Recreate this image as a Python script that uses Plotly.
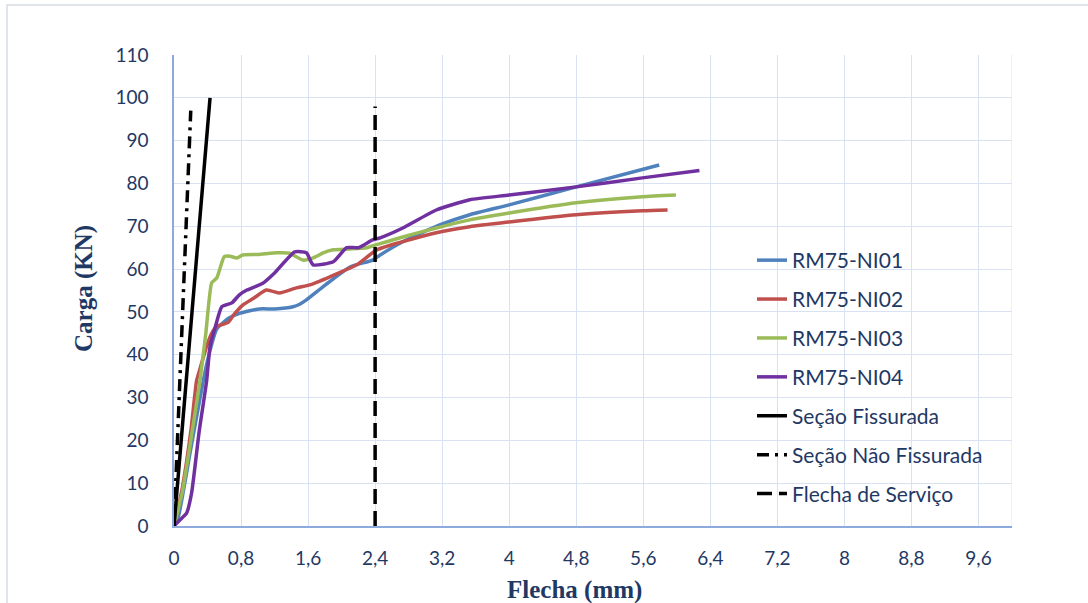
import plotly.graph_objects as go

# Load–deflection curves of the four beams (Flecha in mm, Carga in kN)
ni01_x = [0, 0.05, 0.2, 0.35, 0.41, 0.51, 0.65, 0.79, 1.02, 1.2, 1.42, 1.5, 1.58, 1.8, 2.1, 2.37,
          2.46, 2.73, 3.17, 3.53, 4.0, 4.8, 5.79]
ni01_y = [0, 2, 18, 34, 39.5, 46, 48.5, 49.7, 50.7, 50.7, 51.2, 51.8, 52.8, 56.2, 60.5, 62.1,
          63.3, 66.4, 70.3, 72.7, 75, 79.2, 84.3]

ni02_x = [0, 0.1, 0.2, 0.27, 0.3, 0.39, 0.45, 0.51, 0.6, 0.65, 0.72, 0.82, 0.95, 1.1, 1.18, 1.26,
          1.46, 1.62, 1.86, 2.18, 2.42, 2.73, 3.13, 3.53, 4.0, 4.8, 5.59, 5.89]
ni02_y = [0, 9, 22, 34, 36, 42, 45, 46.6, 47.2, 47.6, 49.5, 51.6, 53.2, 55.1, 54.8, 54.4,
          55.6, 56.3, 58.2, 61, 64.5, 66.4, 68.5, 69.9, 71, 72.7, 73.6, 73.8]

ni03_x = [0, 0.1, 0.2, 0.31, 0.38, 0.45, 0.51, 0.6, 0.67, 0.75, 0.82, 1.0, 1.23, 1.38, 1.54, 1.66,
          1.78, 1.9, 2.1, 2.3, 2.42, 2.73, 3.13, 3.53, 4.0, 4.8, 5.59, 5.99]
ni03_y = [0, 8, 20, 34, 45, 56.8, 57.9, 62.9, 63, 62.6, 63.3, 63.4, 63.8, 63.7, 62.1, 62.6,
          63.8, 64.5, 64.7, 65, 65.7, 67.5, 69.6, 71.5, 73.1, 75.5, 76.9, 77.3]

ni04_x = [0, 0.07, 0.15, 0.21, 0.3, 0.39, 0.43, 0.5, 0.57, 0.69, 0.78, 0.87, 1.06, 1.2, 1.44, 1.58,
          1.66, 1.9, 2.06, 2.2, 2.37, 2.46, 2.73, 3.13, 3.53, 4.0, 4.8, 5.59, 6.27]
ni04_y = [0, 1.4, 3, 7.7, 22, 34, 41.9, 47, 51.2, 52.1, 54, 55.1, 56.7, 59.1, 64, 63.8,
          61, 61.7, 65, 65, 66.8, 67.3, 69.6, 73.8, 76.2, 77.3, 79.2, 81.3, 83]

# Theoretical stiffness lines and the service deflection limit
fiss_x = [0, 0.43]
fiss_y = [0, 100]
nao_fiss_x = [0, 0.2]
nao_fiss_y = [0, 97]
servico_x = [2.4, 2.4]
servico_y = [0, 98]

x_ticks = [0, 0.8, 1.6, 2.4, 3.2, 4, 4.8, 5.6, 6.4, 7.2, 8, 8.8, 9.6]
x_tick_labels = ["0", "0,8", "1,6", "2,4", "3,2", "4", "4,8", "5,6", "6,4", "7,2", "8", "8,8", "9,6"]
y_ticks = list(range(0, 111, 10))

NAVY = "#1F3864"
GRID = "#D9E2F3"
AXIS = "#8EA9DB"
W, H = 1088, 603
ML, MR, MT, MB = 174, 76, 55, 77

fig = go.Figure()

series = [
    ("RM75-NI01", ni01_x, ni01_y, "#4F81BD", "solid", True),
    ("RM75-NI02", ni02_x, ni02_y, "#C0504D", "solid", True),
    ("RM75-NI03", ni03_x, ni03_y, "#9BBB59", "solid", True),
    ("RM75-NI04", ni04_x, ni04_y, "#7030A0", "solid", True),
    ("Seção Fissurada", fiss_x, fiss_y, "#000000", "solid", False),
    ("Seção Não Fissurada", nao_fiss_x, nao_fiss_y, "#000000", "12px,6px,3px,6px", False),
    ("Flecha de Serviço", servico_x, servico_y, "#000000", "15px,7px", False),
]

for i, (name, xs, ys, color, dash, smooth) in enumerate(series):
    line = dict(color=color, width=3.5, dash=dash)
    if smooth:
        line.update(shape="spline", smoothing=0.5)
    fig.add_trace(go.Scatter(
        x=xs, y=ys, name=name, mode="lines", line=line,
        legendgroup=f"g{i}",
    ))

pw = W - ML - MR
ph = H - MT - MB

# Light frame around the whole chart area
fig.add_shape(type="rect", xref="paper", yref="paper",
              x0=(7 - ML) / pw, x1=(W + 20 - ML) / pw,
              y0=-(MB + 20) / ph, y1=(H - MB - 5) / ph,
              line=dict(color="#D6DCE5", width=1.5), fillcolor="rgba(0,0,0,0)", layer="below")

fig.add_annotation(text="<b>Carga (KN)</b>", xref="paper", yref="paper",
                   x=(84 - ML) / pw, y=(H - MB - 289) / ph, textangle=-90,
                   showarrow=False, xanchor="center", yanchor="middle",
                   font=dict(family="Liberation Serif", size=25, color=NAVY))
fig.add_annotation(text="<b>Flecha (mm)</b>", xref="paper", yref="paper",
                   x=(574 - ML) / pw, y=(H - MB - 590) / ph,
                   showarrow=False, xanchor="center", yanchor="middle",
                   font=dict(family="Liberation Serif", size=25, color=NAVY))

fig.update_layout(
    width=W, height=H,
    margin=dict(l=ML, r=MR, t=MT, b=MB),
    paper_bgcolor="white", plot_bgcolor="white",
    font=dict(family="Lato", size=19, color=NAVY),
    showlegend=True,
    legend=dict(
        x=(752 - ML) / pw, y=(H - MB - 240) / ph, xanchor="left", yanchor="top",
        bgcolor="rgba(0,0,0,0)", borderwidth=0,
        font=dict(family="Lato", size=21, color=NAVY),
        traceorder="grouped", tracegroupgap=8.6,
    ),
    xaxis=dict(
        range=[0, 10], tickvals=x_ticks, ticktext=x_tick_labels,
        showgrid=True, gridcolor=GRID, gridwidth=1,
        showline=True, linecolor=AXIS, linewidth=1.5,
        ticks="outside", ticklen=14, tickcolor="rgba(0,0,0,0)",
        zeroline=False, fixedrange=True,
    ),
    yaxis=dict(
        range=[0, 110], tickvals=y_ticks,
        showgrid=True, gridcolor=GRID, gridwidth=1,
        showline=True, linecolor=AXIS, linewidth=1.5,
        ticks="outside", ticklen=20, tickcolor="rgba(0,0,0,0)",
        zeroline=False, fixedrange=True,
    ),
)

# Right edge of the plot area drawn as a grid line
fig.add_shape(type="line", xref="x", yref="paper", x0=10, x1=10, y0=0, y1=1,
              line=dict(color=GRID, width=1), layer="below")

fig.write_html("out.html")
